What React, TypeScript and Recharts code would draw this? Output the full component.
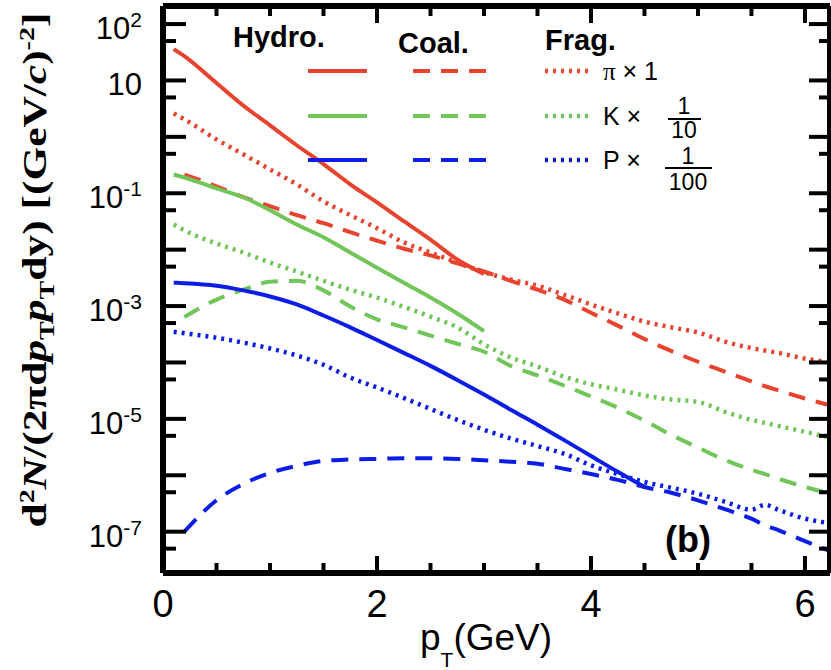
import { LineChart, Line, XAxis, YAxis, ReferenceLine } from 'recharts';

// pT grid (GeV)
const PT = [0.1, 0.2, 0.5, 0.75, 1, 1.25, 1.5, 1.75, 2, 2.25, 2.5, 2.75, 3, 3.25, 3.5, 3.75, 4, 4.25, 4.5, 4.75, 5, 5.25, 5.5, 5.625, 5.75, 6, 6.25];

// pions (x 1)
const HYDRO_PI = [36, 27, 9.0, 3.6, 1.6, 0.71, 0.33, 0.144, 0.069, 0.032, 0.015, 0.0067, 0.0037, null, null, null, null, null, null, null, null, null, null, null, null, null, null];
const COAL_PI = [null, 0.215, 0.133, 0.085, 0.059, 0.041, 0.0295, 0.0204, 0.0145, 0.0104, 0.0079, 0.0057, 0.0041, 0.0028, 0.00195, 0.0013, 0.00076, 0.00045, 0.00026, 0.00016, 0.000103, 0.000069, 0.000046, 0.000038, 0.000032, 0.000023, 0.000017];
const FRAG_PI = [2.6, 2.05, 0.9, 0.49, 0.265, 0.144, 0.072, 0.041, 0.024, 0.0135, 0.0089, 0.0059, 0.004, 0.00295, 0.0023, 0.00158, 0.00107, 0.00074, 0.00053, 0.00042, 0.00034, 0.000235, 0.00018, 0.000163, 0.000148, 0.000117, 0.0001];

// kaons (x 1/10)
const HYDRO_K = [0.215, 0.19, 0.122, 0.085, 0.05, 0.028, 0.0166, 0.0089, 0.0048, 0.0026, 0.00142, 0.00074, 0.00036, null, null, null, null, null, null, null, null, null, null, null, null, null, null];
const COAL_K = [null, 0.00064, 0.0013, 0.00195, 0.0027, 0.0028, 0.0019, 0.00098, 0.00058, 0.00042, 0.0003, 0.000215, 0.000155, 0.000087, 0.000059, 0.000039, 0.000025, 0.0000158, 0.0000093, 0.0000052, 0.0000031, 0.00000187, 0.00000125, 0.00000105, 0.00000087, 0.00000062, 0.00000047];
const FRAG_K = [0.028, 0.022, 0.0129, 0.0089, 0.0059, 0.0041, 0.0028, 0.00195, 0.00141, 0.00097, 0.00065, 0.00042, 0.00021, 0.000123, 0.000085, 0.000056, 0.000041, 0.000033, 0.000026, 0.000022, 0.00002, 0.0000134, 0.0000096, 0.0000085, 0.0000075, 0.0000059, 0.0000046];

// protons (x 1/100)
const HYDRO_P = [0.0026, 0.00255, 0.0023, 0.0019, 0.00148, 0.00107, 0.00068, 0.00042, 0.00025, 0.000148, 0.000087, 0.000049, 0.000027, 0.0000145, 0.0000079, 0.0000042, 0.0000022, 0.00000115, 0.00000062, null, null, null, null, null, null, null, null];
const COAL_P = [null, 1.0e-7, 3.6e-7, 7.0e-7, 1.1e-6, 1.47e-6, 1.8e-6, 1.9e-6, 1.95e-6, 2.0e-6, 2.0e-6, 1.95e-6, 1.85e-6, 1.74e-6, 1.6e-6, 1.3e-6, 1.05e-6, 8.3e-7, 6.2e-7, 4.9e-7, 3.6e-7, 2.5e-7, 1.7e-7, 1.3e-7, 1.07e-7, 6.8e-8, 4.4e-8];
const FRAG_P = [0.00035, 0.00033, 0.000275, 0.000225, 0.000177, 0.000133, 0.000091, 0.000054, 0.000036, 0.0000235, 0.000015, 0.0000096, 0.0000064, 0.0000045, 0.0000033, 0.0000024, 0.0000015, 0.00000105, 0.00000076, 0.0000006, 0.00000047, 0.00000034, 0.000000245, 0.0000003, 0.000000245, 0.00000017, 0.00000014];

const X_TICKS = [0, 0.5, 1, 1.5, 2, 2.5, 3, 3.5, 4, 4.5, 5, 5.5, 6];
const X_LABELS = [0, 2, 4, 6];
const Y_TICKS = [100, 50, 10, 5, 1, 0.5, 0.1, 0.05, 0.01, 0.005, 1e-3, 5e-4, 1e-4, 5e-5, 1e-5, 5e-6, 1e-6, 5e-7, 1e-7, 5e-8];
const Y_LABEL_EXP = [2, 1, -1, -3, -5, -7];

const X_MAX = 6.234;
const Y_MIN = 1.85e-8;
const Y_MAX = 209;

const RED = '#e8432e';
const GREEN = '#72c559';
const BLUE = '#0c1ee6';

const SANS = '"Liberation Sans", Arial, Helvetica, sans-serif';
const SERIF = '"Liberation Serif", "Times New Roman", serif';

// plot box
const LEFT = 163;
const RIGHT = 830;
const TOP = 6;
const BOTTOM = 573;

// tick lengths in px, turned into data units below
const PX_PER_X = (RIGHT - LEFT) / X_MAX;
const PX_PER_DECADE = (BOTTOM - TOP) / Math.log10(Y_MAX / Y_MIN);

const DASH = '17 11';
const DOT = '3 5';

const data = PT.map((pt, i) => ({
    pt,
    hydroPi: HYDRO_PI[i],
    coalPi: COAL_PI[i],
    fragPi: FRAG_PI[i],
    hydroK: HYDRO_K[i],
    coalK: COAL_K[i],
    fragK: FRAG_K[i],
    hydroP: HYDRO_P[i],
    coalP: COAL_P[i],
    fragP: FRAG_P[i],
}));

const isDecade = (v: number) => Math.abs(Math.log10(v) - Math.round(Math.log10(v))) < 1e-6;

function BottomTick(props: any) {
    const { x, payload } = props;
    const v = payload.value;
    if (!X_LABELS.includes(v)) return <g />;
    return (
        <text x={x} y={617} textAnchor="middle" fontFamily={SANS} fontSize={38} fill="#000">
            {v}
        </text>
    );
}

function LeftTick(props: any) {
    const { y, payload } = props;
    const v = payload.value;
    const exp = Math.round(Math.log10(v));
    if (!isDecade(v) || !Y_LABEL_EXP.includes(exp)) return <g />;
    return (
        <text x={142} y={y + 15} textAnchor="end" fontFamily={SANS} fontSize={31} fill="#000">
            10
            {exp !== 1 && (
                <tspan dy={-12} fontSize={21}>
                    {exp}
                </tspan>
            )}
        </text>
    );
}

const tickSegments = () => {
    const segs: { key: string; seg: { x: number; y: number }[] }[] = [];
    X_TICKS.forEach((t) => {
        const len = X_LABELS.includes(t) ? 17 : 10;
        const f = Math.pow(10, len / PX_PER_DECADE);
        segs.push({ key: 'xb' + t, seg: [{ x: t, y: Y_MIN }, { x: t, y: Y_MIN * f }] });
        segs.push({ key: 'xt' + t, seg: [{ x: t, y: Y_MAX }, { x: t, y: Y_MAX / f }] });
    });
    Y_TICKS.forEach((t) => {
        const major = isDecade(t);
        const l = (major ? 23 : 13) / PX_PER_X;
        const r = (major ? 21 : 11) / PX_PER_X;
        segs.push({ key: 'yl' + t, seg: [{ x: 0, y: t }, { x: l, y: t }] });
        segs.push({ key: 'yr' + t, seg: [{ x: X_MAX, y: t }, { x: X_MAX - r, y: t }] });
    });
    return segs;
};

export default function App() {
    const rows = [
        { color: RED, y: 71 },
        { color: GREEN, y: 116 },
        { color: BLUE, y: 160 },
    ];
    return (
        <div style={{ position: 'absolute', left: 0, top: 0, width: 831, height: 670, background: '#fff' }}>
            <LineChart width={831} height={670} data={data} margin={{ top: TOP, right: 1, bottom: 0, left: 0 }}>
                <XAxis
                    dataKey="pt"
                    type="number"
                    domain={[0, X_MAX]}
                    allowDataOverflow
                    ticks={X_TICKS}
                    interval={0}
                    height={97}
                    tickLine={false}
                    axisLine={false}
                    tick={(p: any) => <BottomTick {...p} />}
                />
                <YAxis
                    type="number"
                    scale="log"
                    domain={[Y_MIN, Y_MAX]}
                    allowDataOverflow
                    ticks={Y_TICKS}
                    interval={0}
                    width={LEFT}
                    tickLine={false}
                    axisLine={false}
                    tick={(p: any) => <LeftTick {...p} />}
                />
                <Line type="monotone" dataKey="hydroPi" stroke={RED} strokeWidth={4} dot={false} isAnimationActive={false} />
                <Line type="monotone" dataKey="coalPi" stroke={RED} strokeWidth={4} strokeDasharray={DASH} dot={false} isAnimationActive={false} />
                <Line type="monotone" dataKey="fragPi" stroke={RED} strokeWidth={4.5} strokeDasharray={DOT} dot={false} isAnimationActive={false} />
                <Line type="monotone" dataKey="hydroK" stroke={GREEN} strokeWidth={4} dot={false} isAnimationActive={false} />
                <Line type="monotone" dataKey="coalK" stroke={GREEN} strokeWidth={4} strokeDasharray={DASH} dot={false} isAnimationActive={false} />
                <Line type="monotone" dataKey="fragK" stroke={GREEN} strokeWidth={4.5} strokeDasharray={DOT} dot={false} isAnimationActive={false} />
                <Line type="monotone" dataKey="hydroP" stroke={BLUE} strokeWidth={4} dot={false} isAnimationActive={false} />
                <Line type="monotone" dataKey="coalP" stroke={BLUE} strokeWidth={4} strokeDasharray={DASH} dot={false} isAnimationActive={false} />
                <Line type="monotone" dataKey="fragP" stroke={BLUE} strokeWidth={4.5} strokeDasharray={DOT} dot={false} isAnimationActive={false} />

                {/* frame */}
                <ReferenceLine x={0} stroke="#000" strokeWidth={6} ifOverflow="visible" />
                <ReferenceLine x={X_MAX} stroke="#000" strokeWidth={6} ifOverflow="visible" />
                <ReferenceLine y={Y_MIN} stroke="#000" strokeWidth={6} ifOverflow="visible" />
                <ReferenceLine y={Y_MAX} stroke="#000" strokeWidth={6} ifOverflow="visible" />
                {tickSegments().map((s) => (
                    <ReferenceLine key={s.key} segment={s.seg} stroke="#000" strokeWidth={4} ifOverflow="visible" />
                ))}
            </LineChart>

            <svg width={831} height={670} style={{ position: 'absolute', left: 0, top: 0, pointerEvents: 'none' }}>
                {/* y title */}
                <text
                    transform="translate(46, 270) rotate(-90)"
                    textAnchor="middle"
                    fontFamily={SERIF}
                    fontWeight="bold"
                    fontSize={34}
                    textLength={515}
                    lengthAdjust="spacingAndGlyphs"
                    fill="#000"
                >
                    d<tspan dy={-12} fontSize={22}>2</tspan>
                    <tspan dy={12} fontStyle="italic">N</tspan>/(2πd<tspan fontStyle="italic">p</tspan>
                    <tspan dy={8} fontSize={22}>T</tspan>
                    <tspan dy={-8} fontStyle="italic">p</tspan>
                    <tspan dy={8} fontSize={22}>T</tspan>
                    <tspan dy={-8}>dy) [(GeV/</tspan>
                    <tspan fontStyle="italic">c</tspan>)<tspan dy={-12} fontSize={22}>-2</tspan>
                    <tspan dy={12}>]</tspan>
                </text>

                {/* x title */}
                <text x={420} y={650} fontFamily={SANS} fontSize={37} fill="#000">
                    p<tspan dy={17} fontSize={21}>T</tspan>
                    <tspan dy={-17}>(GeV)</tspan>
                </text>

                {/* panel label */}
                <text x={665} y={552} fontFamily={SANS} fontWeight="bold" fontSize={36} fill="#000">
                    (b)
                </text>

                {/* legend */}
                <text x={233} y={47} fontFamily={SANS} fontWeight="bold" fontSize={29} fill="#000">Hydro.</text>
                <text x={398} y={53} fontFamily={SANS} fontWeight="bold" fontSize={29} fill="#000">Coal.</text>
                <text x={545} y={50} fontFamily={SANS} fontWeight="bold" fontSize={29} fill="#000">Frag.</text>

                {rows.map((r) => (
                    <g key={r.color}>
                        <line x1={308} x2={367} y1={r.y} y2={r.y} stroke={r.color} strokeWidth={4} />
                        <line x1={413} x2={487} y1={r.y} y2={r.y} stroke={r.color} strokeWidth={4} strokeDasharray={DASH} />
                        <line x1={545} x2={592} y1={r.y} y2={r.y} stroke={r.color} strokeWidth={4.5} strokeDasharray={DOT} />
                    </g>
                ))}

                <text x={603} y={80} fontFamily={SANS} fontSize={25} fill="#000">
                    <tspan fontFamily={SERIF}>π</tspan> × 1
                </text>

                <text x={603} y={125} fontFamily={SANS} fontSize={25} fill="#000">K ×</text>
                <text x={684} y={114} textAnchor="middle" fontFamily={SANS} fontSize={23} fill="#000">1</text>
                <rect x={668} y={118} width={33} height={2} fill="#000" />
                <text x={684} y={138} textAnchor="middle" fontFamily={SANS} fontSize={23} fill="#000">10</text>

                <text x={603} y={169} fontFamily={SANS} fontSize={25} fill="#000">P ×</text>
                <text x={688} y={164} textAnchor="middle" fontFamily={SANS} fontSize={23} fill="#000">1</text>
                <rect x={665} y={167} width={47} height={2} fill="#000" />
                <text x={688} y={190} textAnchor="middle" fontFamily={SANS} fontSize={23} fill="#000">100</text>
            </svg>
        </div>
    );
}
